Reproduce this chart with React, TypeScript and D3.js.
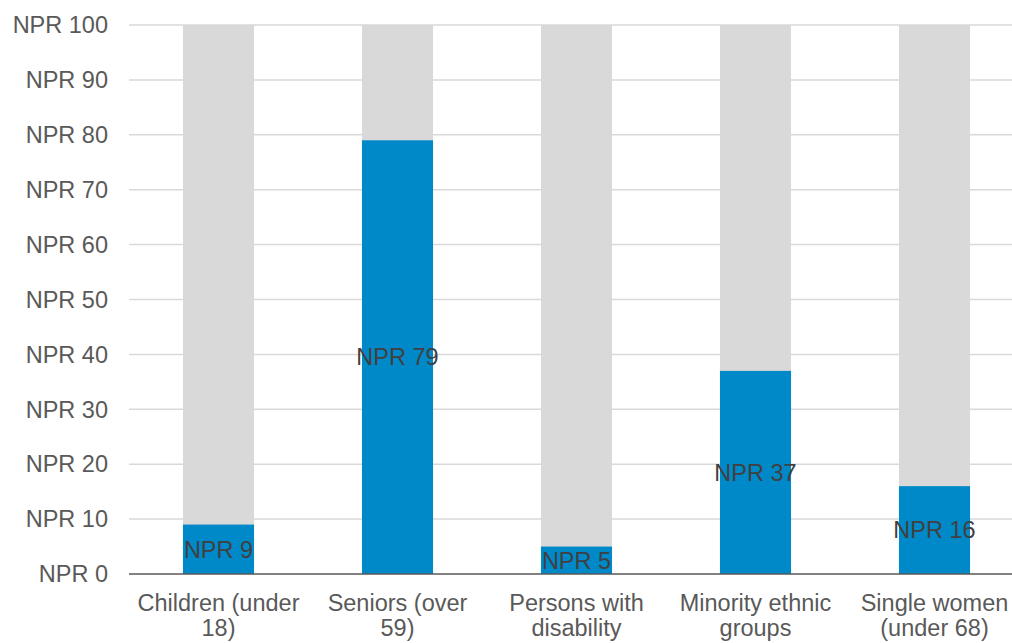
import React from "react";
import * as d3 from "d3";

const categories = [
  ["Children (under", "18)"],
  ["Seniors (over", "59)"],
  ["Persons with", "disability"],
  ["Minority ethnic", "groups"],
  ["Single women", "(under 68)"],
];
const values = [9, 79, 5, 37, 16];
const totals = [100, 100, 100, 100, 100];
const yTicks = [0, 10, 20, 30, 40, 50, 60, 70, 80, 90, 100];

const W = 1012;
const H = 643;
const left = 129;
const right = 1024;
const top = 25;
const bottom = 574;

export default function App() {
  const x = d3
    .scaleBand<number>()
    .domain(d3.range(categories.length))
    .range([left, right])
    .padding(0);
  const y = d3.scaleLinear().domain([0, 100]).range([bottom, top]);
  const barW = x.bandwidth() * 0.397;
  const font = "'Liberation Sans', Arial, sans-serif";

  return (
    <svg
      width={W}
      height={H}
      style={{ position: "absolute", left: 0, top: 0 }}
      fontFamily={font}
    >
      {yTicks.map((t) => (
        <g key={t}>
          {t > 0 && (
            <line
              x1={left}
              x2={right}
              y1={y(t)}
              y2={y(t)}
              stroke="#D9D9D9"
              strokeWidth={1.5}
            />
          )}
          <text
            x={108}
            y={y(t)}
            dy="0.35em"
            textAnchor="end"
            fontSize={23.5}
            fill="#595959"
          >
            {`NPR ${t}`}
          </text>
        </g>
      ))}
      {values.map((v, i) => {
        const cx = x(i)! + x.bandwidth() / 2;
        return (
          <g key={i}>
            <rect
              x={cx - barW / 2}
              width={barW}
              y={y(totals[i])}
              height={y(0) - y(totals[i])}
              fill="#D9D9D9"
            />
            <rect
              x={cx - barW / 2}
              width={barW}
              y={y(v)}
              height={y(0) - y(v)}
              fill="#0089C9"
            />
          </g>
        );
      })}
      <line
        x1={left}
        x2={right}
        y1={y(0)}
        y2={y(0)}
        stroke="#595959"
        strokeWidth={1.5}
      />
      {values.map((v, i) => {
        const cx = x(i)! + x.bandwidth() / 2;
        return (
          <text
            key={i}
            x={cx}
            y={y(v / 2)}
            dy="0.35em"
            textAnchor="middle"
            fontSize={23.5}
            fill="#404040"
          >
            {`NPR ${v}`}
          </text>
        );
      })}
      {categories.map((lines, i) => {
        const cx = x(i)! + x.bandwidth() / 2;
        return (
          <text
            key={i}
            x={cx}
            textAnchor="middle"
            fontSize={23.5}
            fill="#595959"
          >
            {lines.map((l, j) => (
              <tspan key={j} x={cx} y={611 + j * 25}>
                {l}
              </tspan>
            ))}
          </text>
        );
      })}
    </svg>
  );
}
